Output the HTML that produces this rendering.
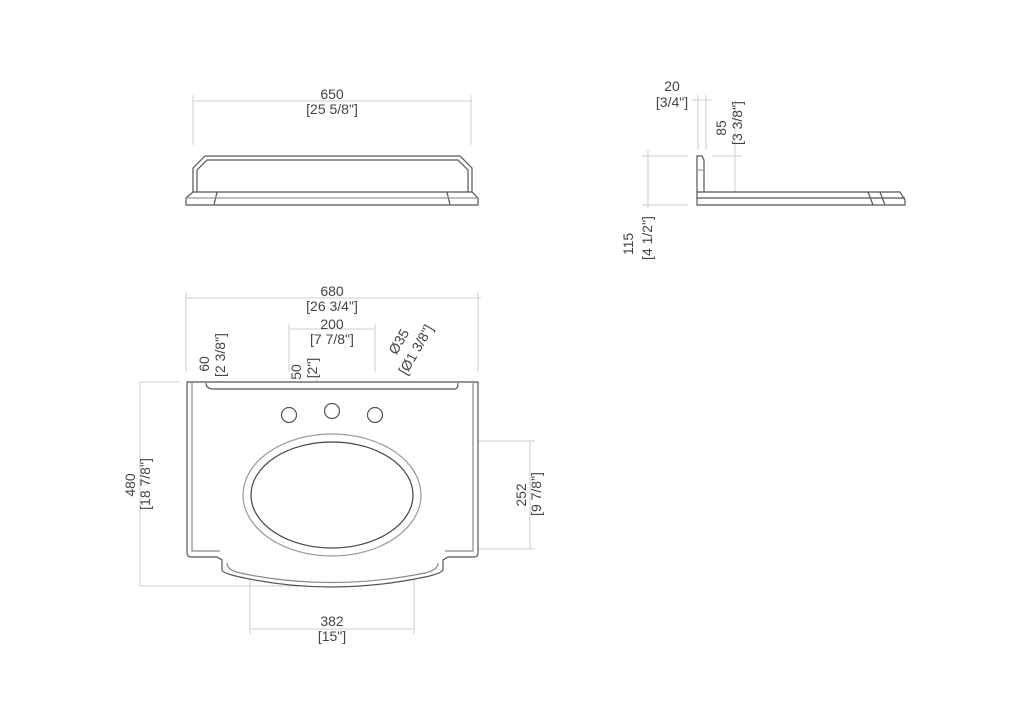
<!DOCTYPE html>
<html><head><style>body{margin:0;background:#fff}svg{display:block}text{font-family:"Liberation Sans",sans-serif;font-size:14px;fill:#444}</style></head><body>
<svg width="1024" height="701" viewBox="0 0 1024 701">
<g stroke="#ccc" stroke-width="1" fill="none">
<line x1="193" y1="101" x2="472" y2="101"/><line x1="193" y1="95" x2="193" y2="145"/><line x1="471" y1="95" x2="471" y2="145"/>
<line x1="698" y1="95" x2="698" y2="150"/><line x1="706" y1="95" x2="706" y2="150"/><line x1="692" y1="100" x2="712" y2="100"/>
<line x1="735" y1="100" x2="735" y2="196"/><line x1="712" y1="156" x2="742" y2="156"/>
<line x1="648" y1="150" x2="648" y2="208"/><line x1="642" y1="156" x2="688" y2="156"/><line x1="642" y1="205" x2="688" y2="205"/>
<line x1="186" y1="298" x2="481" y2="298"/><line x1="186" y1="292" x2="186" y2="372"/><line x1="478" y1="292" x2="478" y2="372"/>
<line x1="289" y1="329" x2="375" y2="329"/><line x1="289" y1="324" x2="289" y2="372"/><line x1="375" y1="324" x2="375" y2="372"/>
<line x1="140" y1="382" x2="180" y2="382"/><line x1="140" y1="586" x2="340" y2="586"/><line x1="140" y1="382" x2="140" y2="586"/>
<line x1="220" y1="381" x2="220" y2="420"/><line x1="218" y1="415" x2="265" y2="415"/>
<line x1="317" y1="372" x2="317" y2="420"/><line x1="310" y1="402" x2="325" y2="402"/>
<line x1="375" y1="415" x2="395" y2="383"/>
<line x1="400" y1="441" x2="535" y2="441"/><line x1="400" y1="549" x2="535" y2="549"/><line x1="530" y1="441" x2="530" y2="549"/>
<line x1="250" y1="530" x2="250" y2="634"/><line x1="414" y1="530" x2="414" y2="634"/><line x1="250" y1="629" x2="414" y2="629"/>
</g>
<g stroke="#555" stroke-width="1.2" fill="#fff">
<path d="M193 192 V168 L205 156 H460 L472 168 V192"/><path d="M197 192 V170 L207 160 H458 L468 170 V192"/>
<path d="M186 205 V198 L193 192 H472 L478 198 V205 Z"/>
<line x1="217" y1="192" x2="214" y2="205"/><line x1="447" y1="192" x2="450" y2="205"/><line x1="186" y1="198" x2="478" y2="198" stroke="#999"/>
<path d="M697 192 V156 H702 L704 160 V192"/><line x1="697" y1="170" x2="704" y2="170" stroke="#999"/>
<path d="M697 192 H900 L905 200 V205 H697 Z"/><line x1="697" y1="198" x2="905" y2="198"/>
<line x1="868" y1="192" x2="873" y2="205"/><line x1="880" y1="192" x2="885" y2="205"/>
<path d="M187 382 H478 V553 Q478 557 474 557 H448 L443 560 V570 Q440 574 425 577 Q330 597 240 577 Q222 573 222 570 V560 L217 557 H191 Q187 557 187 553 Z"/>
<path d="M192 383 V551 H220 M473 383 V551 H445 M227 563 Q227 570 240 573 Q330 592 425 573 Q438 570 438 563" fill="none" stroke="#888"/>
<path d="M206 383 Q206 389 214 389 H455 Q458 389 458 383" fill="none"/>
<ellipse cx="332" cy="495" rx="89" ry="61" stroke="#999"/>
<ellipse cx="332" cy="495" rx="81" ry="53" stroke="#444"/>
<circle cx="289" cy="415" r="7.5"/><circle cx="332" cy="411" r="7.5"/><circle cx="375" cy="415" r="7.5"/>
</g>
<g text-anchor="middle">
<text x="332" y="99">650</text><text x="332" y="114">[25 5/8"]</text>
<text x="672" y="91">20</text><text x="672" y="107">[3/4"]</text>
<text transform="translate(726,128) rotate(-90)">85</text><text transform="translate(742,123) rotate(-90)">[3 3/8"]</text>
<text transform="translate(633,244) rotate(-90)">115</text><text transform="translate(652,238) rotate(-90)">[4 1/2"]</text>
<text x="332" y="296">680</text><text x="332" y="311">[26 3/4"]</text>
<text x="332" y="329">200</text><text x="332" y="344">[7 7/8"]</text>
<text transform="translate(209,364) rotate(-90)">60</text><text transform="translate(225,355) rotate(-90)">[2 3/8"]</text>
<text transform="translate(301,372) rotate(-90)">50</text><text transform="translate(317,368) rotate(-90)">[2"]</text>
<text transform="translate(403,344) rotate(-60)">Ø35</text><text transform="translate(420,352) rotate(-60)">[Ø1 3/8"]</text>
<text transform="translate(135,485) rotate(-90)">480</text><text transform="translate(150,484) rotate(-90)">[18 7/8"]</text>
<text transform="translate(526,495) rotate(-90)">252</text><text transform="translate(541,494) rotate(-90)">[9 7/8"]</text>
<text x="332" y="626">382</text><text x="332" y="641">[15"]</text>
</g>
</svg>
</body></html>
